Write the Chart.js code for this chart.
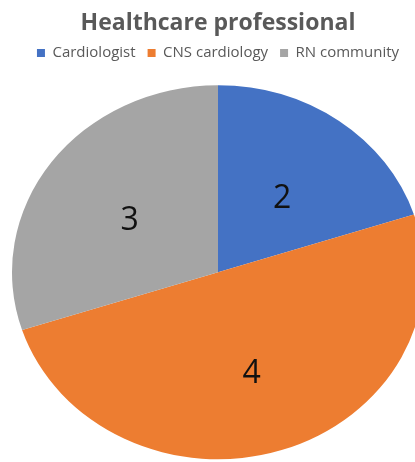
<!DOCTYPE html>
<html>
<head>
	<title>Healthcare professional</title>
	<script src="https://cdn.jsdelivr.net/npm/chart.js@4"></script>
	<style>
		html, body { margin: 0; padding: 0; background: #fff; overflow: hidden; }
		#wrap { width: 415px; height: 462px; overflow: hidden; }
	</style>
</head>
<body>
	<div id="wrap">
		<canvas id="chart" width="415" height="474"></canvas>
	</div>

	<script type="text/javascript">

		var categories = ['Cardiologist', 'CNS cardiology', 'RN community'];
		// slice sizes as drawn in the picture (orange covers exactly half the pie)
		var sliceShares = [20, 50, 30];
		// numbers printed on the slices
		var printedValues = ['2', '4', '3'];
		var sliceColors = ['#4472C4', '#ED7D31', '#A5A5A5'];

		// the pie in the picture is a little wider than tall
		var stretchX = 206 / 187;

		var ovalPie = {
			id: 'ovalPie',
			beforeDatasetsDraw: function(chart) {
				var c = chart.getDatasetMeta(0).data[0];
				var ctx = chart.ctx;
				ctx.save();
				ctx.translate(c.x, c.y);
				ctx.scale(stretchX, 1);
				ctx.translate(-c.x, -c.y);
			},
			afterDatasetsDraw: function(chart) {
				var ctx = chart.ctx;
				ctx.restore();
				var arcs = chart.getDatasetMeta(0).data;
				ctx.save();
				ctx.font = '32px "Open Sans"';
				ctx.fillStyle = '#111';
				ctx.textAlign = 'center';
				ctx.textBaseline = 'middle';
				arcs.forEach(function(a, i) {
					var mid = (a.startAngle + a.endAngle) / 2;
					var r = a.outerRadius * 0.53;
					var x = a.x + Math.cos(mid) * r * stretchX;
					var y = a.y + Math.sin(mid) * r + 7;
					ctx.fillText(printedValues[i], x, y);
				});
				ctx.restore();
			}
		};

		var config = {
			type: 'pie',
			data: {
				labels: categories,
				datasets: [{
					data: sliceShares,
					backgroundColor: sliceColors,
					borderWidth: 0,
					radius: 187,
					clip: false
				}]
			},
			options: {
				responsive: false,
				animation: false,
				layout: {
					padding: { left: 21, right: 0, top: 0, bottom: 0 }
				},
				plugins: {
					title: {
						display: true,
						text: 'Healthcare professional',
						color: '#595959',
						font: { family: '"Open Sans"', size: 23, weight: 'bold', lineHeight: 0.8 },
						padding: { top: 13.8, bottom: 1.3 }
					},
					legend: {
						position: 'top',
						labels: {
							color: '#595959',
							font: { family: '"Open Sans"', size: 15 },
							boxWidth: 8,
							boxHeight: 8,
							padding: 12
						}
					},
					tooltip: { enabled: false }
				}
			},
			plugins: [ovalPie]
		};

		var ctx = document.getElementById('chart').getContext('2d');
		var chart = new Chart(ctx, config);

	</script>
</body>
</html>
